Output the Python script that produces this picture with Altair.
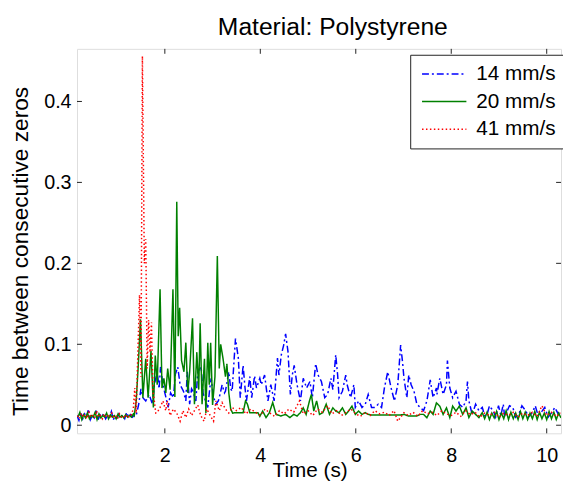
import altair as alt
import pandas as pd

SERIES = ["14 mm/s", "20 mm/s", "41 mm/s"]
COLORS = ["#0000ff", "#008000", "#ff0000"]
X_TICKS = [2, 4, 6, 8, 10]
Y_TICKS = [0, 0.1, 0.2, 0.3, 0.4]

# 14 mm/s (time s, interval s)
BLUE = [
    (0.16, 0.012), (0.20, 0.006), (0.24, 0.016), (0.28, 0.008), (0.32, 0.014), (0.36, 0.010),
    (0.40, 0.020), (0.44, 0.007), (0.48, 0.012), (0.52, 0.009), (0.56, 0.018), (0.60, 0.006),
    (0.64, 0.013), (0.68, 0.010), (0.72, 0.015), (0.76, 0.008), (0.80, 0.012), (0.84, 0.010),
    (0.88, 0.017), (0.92, 0.007), (0.96, 0.011), (1.00, 0.009), (1.04, 0.014), (1.08, 0.010),
    (1.12, 0.012), (1.16, 0.008), (1.20, 0.016), (1.24, 0.010), (1.28, 0.013), (1.32, 0.010),
    (1.36, 0.012),
    (1.40, 0.012), (1.45, 0.025), (1.50, 0.045), (1.54, 0.034), (1.60, 0.030), (1.67, 0.038),
    (1.74, 0.026), (1.78, 0.050), (1.84, 0.066), (1.88, 0.045), (1.91, 0.072), (1.96, 0.050),
    (2.02, 0.035), (2.07, 0.022), (2.12, 0.040), (2.18, 0.034), (2.22, 0.063), (2.27, 0.072),
    (2.32, 0.050), (2.39, 0.042), (2.44, 0.030), (2.47, 0.066), (2.52, 0.026), (2.56, 0.045),
    (2.59, 0.042), (2.65, 0.030), (2.69, 0.066), (2.76, 0.072), (2.80, 0.040), (2.83, 0.034),
    (2.90, 0.022), (2.94, 0.045), (2.97, 0.058), (3.02, 0.035), (3.07, 0.026), (3.12, 0.030),
    (3.14, 0.034), (3.20, 0.050), (3.25, 0.040), (3.27, 0.042), (3.34, 0.066), (3.38, 0.045),
    (3.41, 0.042), (3.45, 0.080), (3.48, 0.107),
    (3.54, 0.083), (3.58, 0.034), (3.64, 0.074), (3.68, 0.046), (3.71, 0.030), (3.78, 0.060),
    (3.82, 0.034), (3.88, 0.061), (3.92, 0.046), (3.99, 0.058), (4.02, 0.050), (4.09, 0.062),
    (4.16, 0.030), (4.22, 0.050), (4.29, 0.030), (4.36, 0.083), (4.39, 0.062), (4.44, 0.087),
    (4.49, 0.099), (4.53, 0.113), (4.58, 0.091), (4.63, 0.038), (4.67, 0.062), (4.71, 0.074),
    (4.77, 0.050), (4.84, 0.030), (4.90, 0.058), (4.97, 0.046), (5.04, 0.054), (5.09, 0.034),
    (5.16, 0.076), (5.21, 0.062), (5.28, 0.054), (5.35, 0.034), (5.41, 0.038), (5.48, 0.058),
    (5.52, 0.044), (5.58, 0.087), (5.62, 0.062), (5.65, 0.034), (5.72, 0.042), (5.79, 0.062),
    (5.82, 0.050), (5.89, 0.034), (5.96, 0.050), (5.99, 0.022), (6.06, 0.030), (6.13, 0.022),
    (6.20, 0.026), (6.26, 0.038), (6.33, 0.022), (6.40, 0.022), (6.47, 0.026), (6.54, 0.022),
    (6.60, 0.046), (6.67, 0.066), (6.74, 0.046), (6.81, 0.030), (6.88, 0.050), (6.94, 0.099),
    (6.98, 0.078), (7.01, 0.058), (7.07, 0.034), (7.11, 0.062), (7.16, 0.050), (7.22, 0.042),
    (7.28, 0.026), (7.35, 0.022), (7.42, 0.018), (7.49, 0.030), (7.56, 0.056), (7.62, 0.034),
    (7.69, 0.046),
    (7.70, 0.038), (7.76, 0.058), (7.83, 0.038), (7.90, 0.050), (7.92, 0.080), (7.97, 0.046),
    (8.03, 0.034), (8.10, 0.042), (8.17, 0.026), (8.24, 0.022), (8.31, 0.030), (8.34, 0.054),
    (8.37, 0.030), (8.44, 0.013), (8.51, 0.026), (8.58, 0.018), (8.65, 0.022), (8.70, 0.012),
    (8.75, 0.013), (8.80, 0.024), (8.82, 0.022), (8.88, 0.018), (8.93, 0.010), (8.99, 0.024),
    (9.04, 0.012), (9.09, 0.026), (9.12, 0.010), (9.16, 0.016), (9.22, 0.024), (9.29, 0.022),
    (9.35, 0.010), (9.43, 0.016), (9.48, 0.024), (9.56, 0.018), (9.62, 0.010), (9.70, 0.016),
    (9.76, 0.024), (9.82, 0.012), (9.91, 0.018), (9.96, 0.022), (10.03, 0.010), (10.11, 0.016),
    (10.17, 0.022), (10.24, 0.014), (10.30, 0.018),
]

# 20 mm/s
GREEN = [
    (0.18, 0.010), (0.22, 0.016), (0.26, 0.007), (0.30, 0.013), (0.34, 0.009), (0.38, 0.015),
    (0.42, 0.008), (0.46, 0.012), (0.50, 0.010), (0.54, 0.016), (0.58, 0.007), (0.62, 0.014),
    (0.66, 0.009), (0.70, 0.012), (0.74, 0.010), (0.78, 0.015), (0.82, 0.008), (0.86, 0.013),
    (0.90, 0.010), (0.94, 0.012), (0.98, 0.008), (1.02, 0.014), (1.06, 0.010), (1.10, 0.012),
    (1.14, 0.009), (1.18, 0.013), (1.22, 0.010), (1.26, 0.012), (1.30, 0.010), (1.34, 0.014),
    (1.36, 0.012), (1.40, 0.030), (1.44, 0.070), (1.49, 0.131), (1.54, 0.034), (1.60, 0.082),
    (1.65, 0.034), (1.71, 0.092), (1.76, 0.022), (1.80, 0.086), (1.84, 0.050), (1.90, 0.168),
    (1.94, 0.046), (1.98, 0.058), (2.02, 0.040), (2.06, 0.070), (2.11, 0.044), (2.17, 0.168),
    (2.21, 0.035), (2.25, 0.276), (2.28, 0.110), (2.31, 0.145), (2.35, 0.080), (2.40, 0.066),
    (2.44, 0.102), (2.48, 0.040), (2.52, 0.066), (2.58, 0.132), (2.62, 0.026), (2.67, 0.090),
    (2.71, 0.044), (2.74, 0.126), (2.78, 0.026), (2.83, 0.082), (2.86, 0.015), (2.90, 0.102),
    (2.93, 0.050), (2.96, 0.102), (3.00, 0.025), (3.05, 0.060), (3.10, 0.209), (3.14, 0.070),
    (3.17, 0.100), (3.22, 0.082), (3.27, 0.060), (3.30, 0.076), (3.34, 0.040), (3.38, 0.020),
    (3.42, 0.015), (3.48, 0.0155), (3.55, 0.0155), (3.64, 0.0155), (3.69, 0.030), (3.73, 0.026),
    (3.78, 0.0155), (3.90, 0.0155), (3.95, 0.0155), (3.99, 0.011), (4.05, 0.0175), (4.12, 0.0094),
    (4.19, 0.0155), (4.26, 0.028), (4.33, 0.0134), (4.43, 0.0114), (4.53, 0.0134), (4.62, 0.0094),
    (4.70, 0.0134), (4.77, 0.0114), (4.84, 0.0155), (4.90, 0.0215), (4.96, 0.0134), (5.03, 0.030),
    (5.07, 0.038), (5.12, 0.0175), (5.18, 0.030), (5.24, 0.0134), (5.31, 0.0155), (5.38, 0.026),
    (5.45, 0.0134), (5.52, 0.0215), (5.58, 0.0175), (5.65, 0.0155), (5.72, 0.0215), (5.79, 0.0134),
    (5.85, 0.0175), (5.92, 0.0236), (5.99, 0.0134), (6.06, 0.0175), (6.13, 0.0134), (6.20, 0.0155),
    (6.26, 0.0134), (6.33, 0.0126), (6.60, 0.0126), (6.94, 0.0126), (7.01, 0.0134), (7.10, 0.0114),
    (7.28, 0.0114), (7.35, 0.0134), (7.42, 0.0134), (7.49, 0.0093), (7.56, 0.0175), (7.62, 0.0134),
    (7.69, 0.0276), (7.76, 0.0236), (7.83, 0.0134), (7.90, 0.0215), (7.97, 0.0094), (8.03, 0.0236),
    (8.10, 0.0175), (8.17, 0.0236), (8.24, 0.0134), (8.31, 0.0215), (8.37, 0.0094), (8.44, 0.0175),
    (8.51, 0.0134), (8.58, 0.0094), (8.65, 0.0155), (8.70, 0.0080), (8.75, 0.0160), (8.80, 0.0070),
    (8.85, 0.0150), (8.90, 0.0090), (8.95, 0.0170), (9.00, 0.0070), (9.05, 0.0150), (9.10, 0.0080),
    (9.15, 0.0180), (9.20, 0.0070), (9.25, 0.0160), (9.30, 0.0080), (9.35, 0.0150), (9.40, 0.0070),
    (9.45, 0.0170), (9.50, 0.0080), (9.55, 0.0160), (9.60, 0.0070), (9.65, 0.0150), (9.70, 0.0080),
    (9.75, 0.0170), (9.80, 0.0070), (9.85, 0.0160), (9.90, 0.0080), (9.95, 0.0150), (10.00, 0.0070),
    (10.05, 0.0170), (10.10, 0.0080), (10.15, 0.0160), (10.20, 0.0070), (10.25, 0.0150), (10.30, 0.0090),
]

# 41 mm/s
RED = [
    (0.17, 0.012), (0.21, 0.008), (0.25, 0.015), (0.29, 0.010), (0.33, 0.013), (0.37, 0.008),
    (0.41, 0.016), (0.45, 0.010), (0.49, 0.012), (0.53, 0.009), (0.57, 0.018), (0.61, 0.010),
    (0.65, 0.012), (0.69, 0.008), (0.73, 0.014), (0.77, 0.010), (0.81, 0.012), (0.85, 0.009),
    (0.89, 0.015), (0.93, 0.010), (0.97, 0.012), (1.01, 0.008), (1.05, 0.014), (1.09, 0.010),
    (1.13, 0.012), (1.17, 0.009), (1.21, 0.013), (1.25, 0.010), (1.29, 0.012),
    (1.34, 0.020), (1.37, 0.046), (1.40, 0.015), (1.44, 0.100), (1.47, 0.161), (1.50, 0.060),
    (1.53, 0.456), (1.57, 0.200), (1.60, 0.230), (1.63, 0.070), (1.66, 0.130), (1.69, 0.090),
    (1.72, 0.127), (1.75, 0.042), (1.78, 0.030), (1.81, 0.015), (1.84, 0.0155), (1.90, 0.022),
    (1.96, 0.030), (2.02, 0.018), (2.05, 0.030), (2.11, 0.012), (2.18, 0.020), (2.25, 0.015),
    (2.32, 0.005), (2.38, 0.018), (2.44, 0.0095), (2.50, 0.020), (2.56, 0.012), (2.62, 0.018),
    (2.69, 0.025), (2.75, 0.012), (2.82, 0.005), (2.88, 0.020), (2.95, 0.012), (3.02, 0.005),
    (3.07, 0.030), (3.14, 0.018), (3.20, 0.028), (3.27, 0.020), (3.34, 0.015), (3.41, 0.022),
    (3.50, 0.018), (3.60, 0.022), (3.70, 0.014), (3.80, 0.020), (3.90, 0.016), (4.00, 0.012),
    (4.10, 0.020), (4.20, 0.015), (4.30, 0.011), (4.40, 0.018), (4.50, 0.014), (4.60, 0.020),
    (4.70, 0.016), (4.82, 0.030), (4.90, 0.014), (5.00, 0.018), (5.10, 0.012), (5.20, 0.020),
    (5.30, 0.016), (5.41, 0.024), (5.50, 0.014), (5.60, 0.018), (5.70, 0.012), (5.80, 0.016),
    (5.90, 0.020), (6.00, 0.014), (6.10, 0.011), (6.20, 0.016), (6.30, 0.012), (6.40, 0.018),
    (6.50, 0.014), (6.60, 0.016), (6.70, 0.012), (6.80, 0.018), (6.88, 0.005), (7.01, 0.0155),
    (7.10, 0.012), (7.20, 0.016), (7.30, 0.011), (7.40, 0.018), (7.50, 0.014), (7.60, 0.016),
    (7.70, 0.012), (7.80, 0.018), (7.90, 0.014), (8.00, 0.012), (8.10, 0.016), (8.20, 0.011),
    (8.30, 0.018), (8.40, 0.013), (8.50, 0.016), (8.60, 0.010), (8.70, 0.015), (8.80, 0.012),
    (8.90, 0.016), (9.00, 0.010), (9.10, 0.015), (9.20, 0.012), (9.30, 0.016), (9.40, 0.010),
    (9.50, 0.015), (9.60, 0.012), (9.70, 0.016), (9.80, 0.011), (9.90, 0.024), (10.00, 0.012),
    (10.10, 0.016), (10.20, 0.011), (10.30, 0.015),
]

rows = []
for name, pts in zip(SERIES, [BLUE, GREEN, RED]):
    for t, v in pts:
        rows.append({"t": t, "y": v, "series": name})
df = pd.DataFrame(rows)

FONT = "Liberation Sans"
W, H = 491, 390
xscale = alt.Scale(domain=[0.16, 10.3], nice=False, zero=False)
yscale = alt.Scale(domain=[-0.01, 0.465], nice=False, zero=False)

lines = alt.Chart(df).mark_line(strokeWidth=1.5, clip=True).encode(
    x=alt.X("t:Q", scale=xscale, axis=alt.Axis(
        values=X_TICKS, format="d", title="Time (s)", grid=False, domain=False, ticks=False,
        labelFontSize=20, titleFontSize=21, labelFont=FONT, titleFont=FONT,
        titleFontWeight="normal", labelPadding=13, titlePadding=-6, titleX=236,
        labelColor="#000", titleColor="#000")),
    y=alt.Y("y:Q", scale=yscale, axis=alt.Axis(
        values=Y_TICKS, format=".1~f", title="Time between consecutive zeros", grid=False,
        domain=False, ticks=False, labelFontSize=20, titleFontSize=23, labelFont=FONT,
        titleFont=FONT, titleFontWeight="normal", labelPadding=6, titlePadding=11,
        titleY=205, labelColor="#000", titleColor="#000")),
    color=alt.Color("series:N", scale=alt.Scale(domain=SERIES, range=COLORS), title=None,
                    legend=alt.Legend(orient="none", legendX=338, legendY=6, strokeColor="#222",
                                      fillColor="white", padding=9, labelFontSize=21, labelFont=FONT,
                                      labelColor="#000", symbolType="M-1,0H5", symbolSize=225,
                                      symbolStrokeWidth=1.5, labelOffset=37, rowPadding=6,
                                      cornerRadius=0)),
    strokeDash=alt.StrokeDash("series:N", scale=alt.Scale(domain=SERIES, range=[[7, 3, 2, 3], [1, 0], [1.5, 2.5]]),
                              title=None),
    order=alt.Order("t:Q"),
)

xt = pd.DataFrame({"t": X_TICKS})
yt = pd.DataFrame({"y": Y_TICKS})
tick_bottom = alt.Chart(xt).mark_rule(color="#222").encode(x=alt.X("t:Q", scale=xscale), y=alt.value(H), y2=alt.value(H - 5))
tick_top = alt.Chart(xt).mark_rule(color="#222").encode(x=alt.X("t:Q", scale=xscale), y=alt.value(0), y2=alt.value(5))
tick_left = alt.Chart(yt).mark_rule(color="#222").encode(y=alt.Y("y:Q", scale=yscale), x=alt.value(0), x2=alt.value(5))
tick_right = alt.Chart(yt).mark_rule(color="#222").encode(y=alt.Y("y:Q", scale=yscale), x=alt.value(W), x2=alt.value(W - 5))

chart = alt.layer(lines, tick_bottom, tick_top, tick_left, tick_right).properties(
    width=W, height=H,
    title=alt.TitleParams("Material: Polystyrene", fontSize=25, font=FONT, fontWeight="normal",
                          anchor="middle", color="#000", dx=14, offset=9),
    autosize=alt.AutoSizeParams(type="none"),
    padding={"left": 70, "top": 38, "right": 2, "bottom": 50},
).configure_view(stroke="#222", strokeWidth=1).configure(background="white")

chart.save("out.html", embed_options={"renderer": "svg", "actions": False})
